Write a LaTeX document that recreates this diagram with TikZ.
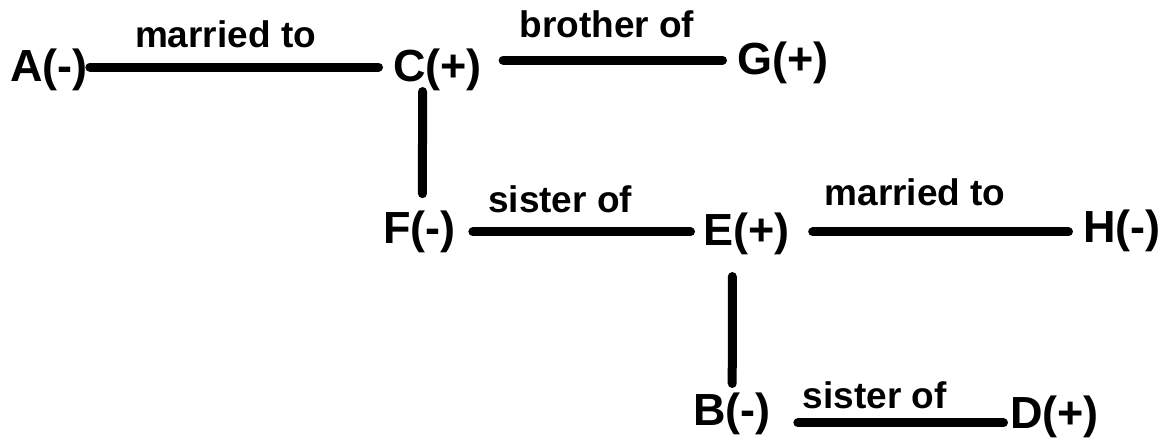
\documentclass[tikz,border=0pt]{standalone}
\usepackage{fontspec}
\setmainfont{Liberation Sans}
\usetikzlibrary{positioning}
\tikzstyle{person} = [inner sep=0pt, anchor=base west,
    font=\fontsize{45}{54}\selectfont\bfseries]
\tikzstyle{rel} = [inner sep=0pt, font=\fontsize{37}{44}\selectfont\bfseries]
\tikzstyle{link} = [line width=9pt, line cap=round]

\begin{document}
\begin{tikzpicture}[x=1pt,y=-1pt]
	  \useasboundingbox (0,0) rectangle (1165,441);
	  \node [person] (A) at (10,82) {A(-)};
	  \node [person] (C) at (393,82) {C(+)};
	  \node [person] (G) at (737,75) {G(+)};
	  \node [person] (F) at (383,243) {F(-)};
	  \node [person] (E) at (703,245) {E(+)};
	  \node [person] (H) at (1083,242) {H(-)};
	  \node [person] (B) at (693,425) {B(-)};
	  \node [person] (D) at (1010,428) {D(+)};
	  \draw [link] ([xshift=2pt,yshift=3.3pt]A.east) -- node [rel,above=15pt,pos=.47] {married to} ([xshift=-14.5pt,yshift=3.3pt]C.west);
	  \draw [link] ([xshift=21pt,yshift=10.3pt]C.east) -- node [rel,above=18pt,pos=.473] {brother of} ([xshift=-14.5pt,yshift=3.3pt]G.west);
	  \draw [link] ([xshift=-15pt]C.south) -- ([xshift=3pt,yshift=16.5pt]F.north);
	  \draw [link] ([xshift=17pt,yshift=-0.6pt]F.east) -- node [rel,above=15pt,pos=.401] {sister of} ([xshift=-12.5pt,yshift=1.4pt]E.west);
	  \draw [link] ([xshift=23pt,yshift=1.4pt]E.east) -- node [rel,above=22pt,pos=.4] {married to} ([xshift=-14.5pt,yshift=-1.6pt]H.west);
	  \draw [link] ([xshift=-14pt,yshift=-22pt]E.south) -- ([xshift=0.3pt,yshift=8.7pt]B.north);
	  \draw [link] ([xshift=27pt,yshift=-9.6pt]B.east) -- node [rel,above=10pt,pos=.374] {sister of} ([xshift=-6.5pt,yshift=-6.6pt]D.west);
	\end{tikzpicture}
\end{document}
